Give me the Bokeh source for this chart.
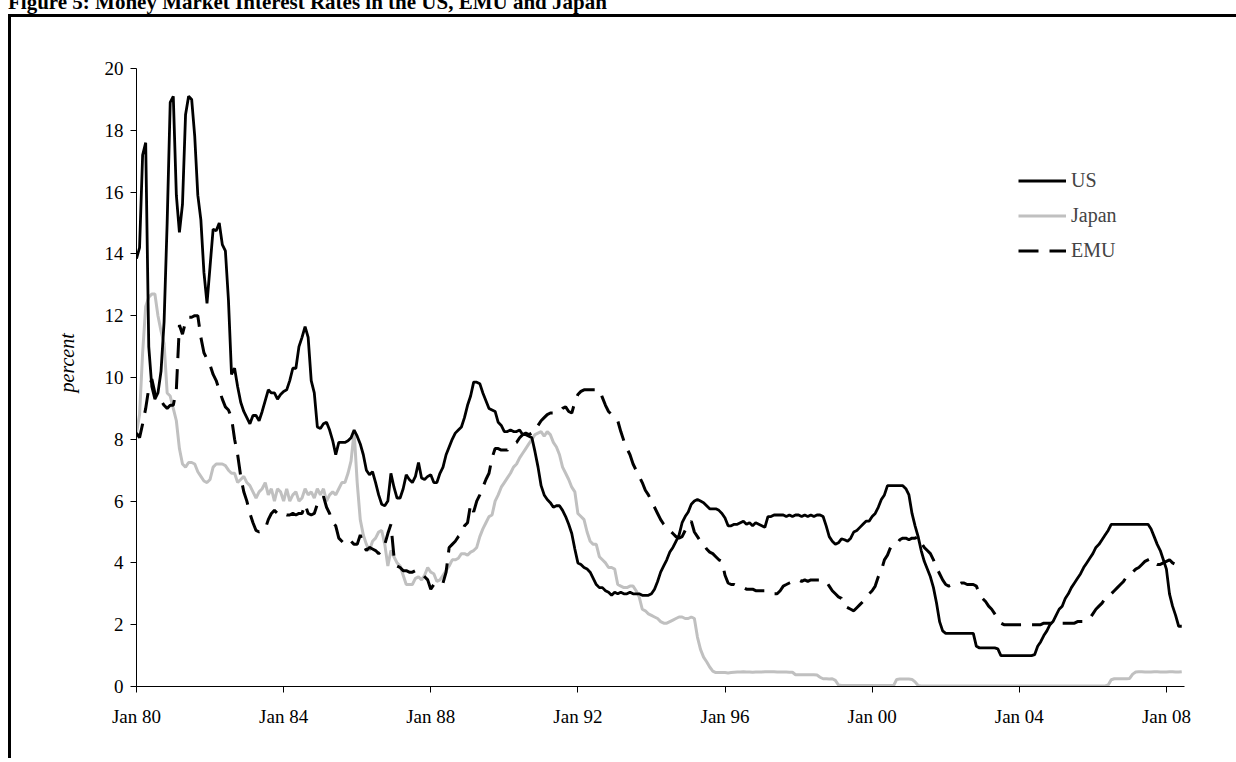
from bokeh.plotting import figure
from bokeh.layouts import column
from bokeh.models import Range1d, FixedTicker, Legend, LegendItem, Title, Div
from bokeh.embed import file_html
from bokeh.resources import INLINE

# Monthly observations, Jan 1980 (index 0) .. Jun 2008 (index 341)
us = [13.85, 14.2, 17.2, 17.6, 11.0, 9.7, 9.3, 9.5, 10.2, 11.8, 15.0, 18.9,
      19.1, 15.9, 14.7, 15.6, 18.5, 19.1, 19.0, 17.8, 15.9, 15.1, 13.4, 12.4,
      13.6, 14.8, 14.75, 15.0, 14.3, 14.1, 12.5, 10.1, 10.3, 9.7, 9.2, 8.9,
      8.7, 8.5, 8.77, 8.77, 8.6, 8.9, 9.25, 9.6, 9.5, 9.5, 9.3, 9.45,
      9.55, 9.6, 9.9, 10.3, 10.3, 11.0, 11.3, 11.65, 11.3, 9.9, 9.5, 8.4,
      8.35, 8.5, 8.55, 8.3, 7.96, 7.5, 7.9, 7.9, 7.9, 7.95, 8.05, 8.3,
      8.1, 7.85, 7.5, 7.0, 6.85, 6.95, 6.6, 6.2, 5.9, 5.85, 6.0, 6.9,
      6.45, 6.1, 6.1, 6.4, 6.85, 6.7, 6.6, 6.8, 7.25, 6.75, 6.7, 6.8,
      6.85, 6.6, 6.6, 6.9, 7.1, 7.5, 7.75, 8.0, 8.2, 8.3, 8.4, 8.7,
      9.1, 9.4, 9.85, 9.85, 9.8, 9.5, 9.25, 9.0, 8.95, 8.9, 8.55, 8.45,
      8.25, 8.25, 8.3, 8.25, 8.25, 8.3, 8.15, 8.15, 8.1, 8.05, 7.6, 7.1,
      6.5, 6.2, 6.05, 5.95, 5.8, 5.85, 5.85, 5.7, 5.5, 5.25, 4.95, 4.45,
      4.0, 3.95, 3.85, 3.8, 3.7, 3.5, 3.3, 3.2, 3.2, 3.1, 3.05, 2.95,
      3.05, 3.0, 3.05, 3.0, 3.0, 3.05, 3.0, 3.0, 3.0, 2.95, 2.95, 2.95,
      3.0, 3.15, 3.4, 3.7, 3.9, 4.1, 4.35, 4.5, 4.7, 4.9, 5.3, 5.5,
      5.65, 5.9, 6.0, 6.05, 6.0, 5.95, 5.85, 5.75, 5.75, 5.75, 5.7, 5.6,
      5.45, 5.2, 5.2, 5.25, 5.25, 5.3, 5.35, 5.25, 5.3, 5.2, 5.3, 5.25,
      5.2, 5.15, 5.5, 5.5, 5.55, 5.55, 5.55, 5.55, 5.5, 5.55, 5.5, 5.55,
      5.55, 5.5, 5.55, 5.5, 5.55, 5.5, 5.55, 5.55, 5.5, 5.2, 4.85, 4.7,
      4.6, 4.65, 4.78, 4.75, 4.7, 4.8, 5.0, 5.05, 5.15, 5.25, 5.35, 5.35,
      5.5, 5.6, 5.8, 6.05, 6.2, 6.5, 6.5, 6.5, 6.5, 6.5, 6.5, 6.4,
      6.2, 5.6, 5.2, 4.85, 4.4, 4.05, 3.8, 3.55, 3.2, 2.7, 2.1, 1.8,
      1.72, 1.72, 1.72, 1.72, 1.72, 1.72, 1.72, 1.72, 1.72, 1.72, 1.3, 1.25,
      1.25, 1.25, 1.25, 1.25, 1.25, 1.22, 1.0, 1.0, 1.0, 1.0, 1.0, 1.0,
      1.0, 1.0, 1.0, 1.0, 1.0, 1.03, 1.3, 1.45, 1.65, 1.8, 2.0, 2.1,
      2.3, 2.5, 2.6, 2.85, 3.0, 3.2, 3.35, 3.5, 3.65, 3.85, 4.0, 4.15,
      4.3, 4.5, 4.6, 4.75, 4.9, 5.05, 5.25, 5.25, 5.25, 5.25, 5.25, 5.25,
      5.25, 5.25, 5.25, 5.25, 5.25, 5.25, 5.25, 5.1, 4.85, 4.6, 4.4, 4.1,
      3.8, 3.0, 2.6, 2.3, 1.95, 1.95]

japan = [8.2, 8.8, 10.8, 12.3, 12.6, 12.7, 12.7, 12.0, 11.5, 11.1, 9.5, 9.4,
         9.0, 8.6, 7.7, 7.2, 7.1, 7.25, 7.25, 7.2, 6.95, 6.8, 6.65, 6.6,
         6.7, 7.1, 7.2, 7.2, 7.2, 7.15, 7.0, 6.9, 6.9, 6.6, 6.7, 6.8,
         6.6, 6.5, 6.3, 6.1, 6.3, 6.4, 6.6, 6.2, 6.4, 6.0, 6.4, 6.3,
         6.0, 6.4, 6.0, 6.2, 6.3, 6.0, 6.1, 6.4, 6.2, 6.3, 6.1, 6.4,
         6.2, 6.4, 6.0, 6.2, 6.3, 6.2, 6.4, 6.6, 6.6, 6.9, 7.3, 8.25,
         6.6, 5.4, 4.9, 4.6, 4.4, 4.7, 4.8, 5.0, 5.05, 4.6, 3.9, 4.4,
         4.2, 4.0, 3.9, 3.6, 3.3, 3.3, 3.3, 3.5, 3.55, 3.45, 3.6, 3.85,
         3.7, 3.65, 3.4, 3.45, 3.6, 3.75, 3.9, 4.1, 4.1, 4.15, 4.3, 4.3,
         4.25, 4.35, 4.4, 4.5, 4.85, 5.1, 5.3, 5.5, 5.55, 6.0, 6.2, 6.45,
         6.6, 6.75, 6.9, 7.1, 7.2, 7.4, 7.55, 7.7, 7.85, 8.0, 8.15, 8.2,
         8.25, 8.1, 8.25, 8.15, 7.9, 7.75, 7.5, 7.1, 6.9, 6.7, 6.45, 6.3,
         5.6, 5.5, 5.4, 5.0, 4.7, 4.6, 4.6, 4.2, 4.1, 4.0, 3.85, 3.85,
         3.8, 3.3, 3.25, 3.2, 3.2, 3.25, 3.25, 3.1, 2.9, 2.5, 2.45, 2.35,
         2.3, 2.25, 2.2, 2.1, 2.05, 2.05, 2.1, 2.15, 2.2, 2.25, 2.25, 2.2,
         2.2, 2.25, 2.2, 1.6, 1.2, 0.95, 0.8, 0.63, 0.5, 0.45, 0.45, 0.45,
         0.45, 0.44, 0.45, 0.46, 0.47, 0.47, 0.48, 0.47, 0.47, 0.46, 0.47, 0.47,
         0.47, 0.48, 0.48, 0.48, 0.48, 0.47, 0.47, 0.47, 0.47, 0.46, 0.46, 0.38,
         0.38, 0.38, 0.38, 0.38, 0.38, 0.38, 0.37, 0.3, 0.25, 0.25, 0.24, 0.25,
         0.2, 0.05, 0.03, 0.03, 0.03, 0.03, 0.03, 0.03, 0.03, 0.03, 0.03, 0.03,
         0.03, 0.03, 0.03, 0.03, 0.03, 0.03, 0.03, 0.03, 0.23, 0.24, 0.24, 0.24,
         0.24, 0.23, 0.15, 0.03, 0.02, 0.02, 0.02, 0.02, 0.02, 0.02, 0.02, 0.02,
         0.02, 0.02, 0.02, 0.02, 0.02, 0.02, 0.02, 0.02, 0.02, 0.02, 0.02, 0.02,
         0.02, 0.02, 0.02, 0.02, 0.02, 0.02, 0.02, 0.02, 0.02, 0.02, 0.02, 0.02,
         0.02, 0.02, 0.02, 0.02, 0.02, 0.02, 0.02, 0.02, 0.02, 0.02, 0.02, 0.02,
         0.02, 0.02, 0.02, 0.02, 0.02, 0.02, 0.02, 0.02, 0.02, 0.02, 0.02, 0.02,
         0.02, 0.02, 0.02, 0.02, 0.02, 0.05, 0.22, 0.25, 0.25, 0.25, 0.25, 0.25,
         0.26, 0.4, 0.47, 0.48, 0.48, 0.47, 0.47, 0.47, 0.48, 0.48, 0.47, 0.47,
         0.47, 0.48, 0.48, 0.47, 0.47, 0.48]

emu = [8.2, 8.05, 8.5, 9.0, 9.65, 9.95, 9.5, 9.3, 9.25, 9.1, 9.0, 9.1,
       9.1, 9.6, 11.7, 11.4, 11.8, 11.95, 11.95, 12.0, 12.0, 11.3, 10.8, 10.6,
       10.4, 10.1, 9.9, 9.6, 9.3, 9.05, 8.95, 8.7, 8.0, 7.5, 6.8, 6.3,
       6.0, 5.6, 5.3, 5.05, 5.0, 5.05, 5.1, 5.4, 5.6, 5.7, 5.6, 5.55,
       5.6, 5.55, 5.55, 5.6, 5.55, 5.6, 5.6, 5.9, 5.6, 5.55, 5.6, 5.9,
       6.0, 6.15, 5.8, 5.6, 5.3, 5.2, 4.8, 4.7, 4.6, 4.6, 4.7, 4.6,
       4.6, 4.9, 4.6, 4.4, 4.5, 4.45, 4.4, 4.3, 4.4, 4.6, 4.95, 5.25,
       4.2, 3.9, 3.85, 3.75, 3.75, 3.7, 3.7, 3.75, 3.7, 3.65, 3.55, 3.45,
       3.15, 3.3, 3.25, 3.27, 3.35, 3.7, 4.5, 4.6, 4.7, 4.85, 4.95, 5.2,
       5.3, 5.9, 5.65, 6.0, 6.2, 6.45, 6.7, 6.9, 7.4, 7.7, 7.7, 7.65,
       7.65, 7.65, 7.75, 7.85, 7.9, 8.05, 8.15, 8.2, 8.15, 8.2, 8.25, 8.45,
       8.6, 8.7, 8.8, 8.85, 8.85, 8.9, 8.9, 9.0, 9.05, 8.9, 8.85, 9.2,
       9.45, 9.55, 9.6, 9.6, 9.6, 9.6, 9.6, 9.6, 9.35, 9.1, 8.9, 8.8,
       8.7, 8.6, 8.25, 7.95, 7.7, 7.5, 7.2, 7.0, 6.8, 6.6, 6.35, 6.2,
       6.0, 5.8, 5.6, 5.4, 5.25, 5.15, 5.05, 4.95, 4.85, 4.8, 4.85, 5.05,
       5.2, 5.35, 5.0, 4.85, 4.7, 4.6, 4.45, 4.35, 4.3, 4.2, 4.1, 4.05,
       3.6, 3.35, 3.3, 3.3, 3.25, 3.25, 3.2, 3.15, 3.15, 3.15, 3.1, 3.1,
       3.1, 3.1, 3.05, 3.0, 3.0, 3.0, 3.1, 3.25, 3.3, 3.35, 3.4, 3.45,
       3.45, 3.4, 3.45, 3.4, 3.45, 3.45, 3.45, 3.45, 3.45, 3.4, 3.25, 3.1,
       3.0, 2.9, 2.85, 2.6, 2.55, 2.5, 2.45, 2.55, 2.65, 2.75, 2.9, 3.0,
       3.1, 3.25, 3.55, 3.75, 4.1, 4.25, 4.5, 4.55, 4.6, 4.75, 4.8, 4.8,
       4.75, 4.8, 4.8, 4.85, 4.65, 4.5, 4.4, 4.3, 4.1, 3.85, 3.65, 3.45,
       3.3, 3.25, 3.3, 3.3, 3.3, 3.35, 3.35, 3.3, 3.3, 3.3, 3.25, 3.0,
       2.85, 2.75, 2.6, 2.5, 2.35, 2.2, 2.05, 2.0, 2.0, 2.0, 2.0, 2.0,
       2.0, 2.0, 2.0, 2.0, 2.0, 2.0, 2.0, 2.0, 2.05, 2.05, 2.05, 2.05,
       2.05, 2.05, 2.05, 2.05, 2.05, 2.05, 2.05, 2.1, 2.1, 2.1, 2.15, 2.2,
       2.35, 2.5, 2.6, 2.7, 2.85, 2.9, 3.0, 3.1, 3.2, 3.3, 3.4, 3.55,
       3.6, 3.7, 3.8, 3.85, 3.95, 4.05, 4.1, 4.15, 4.05, 3.95, 3.95, 4.0,
       4.05, 4.1, 4.0, 3.95, 3.95, 3.9]

months = list(range(len(us)))

x_tick_positions = [0, 48, 96, 144, 192, 240, 288, 336]
x_tick_labels = ["Jan 80", "Jan 84", "Jan 88", "Jan 92", "Jan 96", "Jan 00", "Jan 04", "Jan 08"]
y_ticks = [0, 2, 4, 6, 8, 10, 12, 14, 16, 18, 20]

title_text = "Figure 5: Money Market Interest Rates in the US, EMU and Japan"
y_label_text = "percent"

SERIF = "Liberation Serif"
W = 1236
CAP_H = 14                      # strip holding the (cut-off) caption
H = 744                         # main chart below it
FL, FR = 136, 1184              # frame edges (page x)
FT, FB = 68 - CAP_H, 686 - CAP_H  # frame edges (canvas y of main chart)

# ---- caption strip: the caption is partly cut off at the top, as in the source
cap = Div(text=('<div style="position:relative; top:-8px; left:8px; white-space:nowrap; '
                "font-family:'Liberation Serif'; font-weight:bold; font-size:21px; "
                'line-height:21px; color:#000;">' + title_text + '</div>'),
          width=W, height=CAP_H, margin=0,
          styles={"overflow": "hidden", "background-color": "white"})

# ---- main chart
p = figure(width=W, height=H, output_backend="svg", toolbar_location=None,
           title=None,
           x_range=Range1d(0, 341.9), y_range=Range1d(0, 20),
           min_border_left=FL, min_border_right=W - FR, min_border_top=FT,
           min_border_bottom=H - FB)
p.outline_line_color = None
p.xgrid.visible = False
p.ygrid.visible = False
p.background_fill_color = "white"
p.border_fill_color = None
# the box drawn round the exhibit (left and top edges visible)
p.styles = {
    "background-color": "white",
    "background-image": "linear-gradient(#000, #000), linear-gradient(#000, #000)",
    "background-size": "3px 100%, 100% 3px",
    "background-position": "8px 0px, 8px 0px",
    "background-repeat": "no-repeat",
}

for ax in (p.xaxis[0], p.yaxis[0]):
    ax.axis_line_color = "black"
    ax.axis_line_width = 1
    ax.major_tick_line_color = "black"
    ax.major_tick_in = 0
    ax.major_tick_out = 6
    ax.minor_tick_line_color = None
    ax.major_label_text_font = SERIF
    ax.major_label_text_font_size = "19px"
    ax.major_label_text_color = "black"

p.xaxis.ticker = FixedTicker(ticks=x_tick_positions)
p.xaxis.major_label_overrides = {t: l for t, l in zip(x_tick_positions, x_tick_labels)}
p.xaxis.major_label_standoff = 13
p.yaxis.ticker = FixedTicker(ticks=y_ticks)
p.yaxis.major_label_standoff = 7

r_jp = p.line(months, japan, line_color="#c0c0c0", line_width=3)
r_emu = p.line(months, emu, line_color="black", line_width=3, line_dash="20 11")
r_us = p.line(months, us, line_color="black", line_width=2.8)

legend = Legend(items=[LegendItem(label="US", renderers=[r_us]),
                       LegendItem(label="Japan", renderers=[r_jp]),
                       LegendItem(label="EMU", renderers=[r_emu])],
                location=(1018 - FL, 686 - 268), orientation="vertical")
legend.border_line_color = None
legend.background_fill_alpha = 0
legend.glyph_width = 48
legend.glyph_height = 35
legend.label_height = 35
legend.spacing = 0
legend.padding = 0
legend.margin = 0
legend.label_standoff = 5
legend.label_text_font = SERIF
legend.label_text_font_size = "20px"
legend.label_text_baseline = "middle"
p.add_layout(legend)

# y-axis title, in the left panel (start of the text placed by offset from the frame bottom)
p.add_layout(Title(text=y_label_text, align="left", offset=294, standoff=47,
                   text_font=SERIF, text_font_style="italic",
                   text_font_size="20px", text_color="black"), "left")

layout = column(cap, p, spacing=0)
open("out.html", "w").write(file_html(layout, INLINE))
